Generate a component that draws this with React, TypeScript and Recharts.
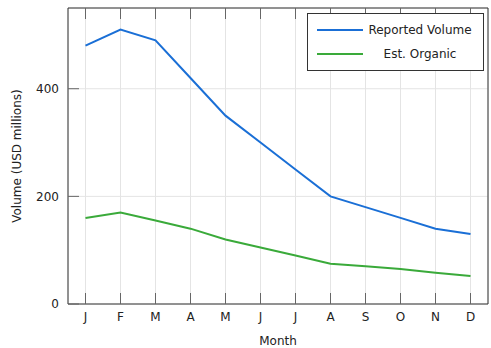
import { CartesianGrid, Line, LineChart, XAxis, YAxis } from "recharts";

const months = ["J", "F", "M", "A", "M", "J", "J", "A", "S", "O", "N", "D"];
const reported = [480, 510, 490, 420, 350, 300, 250, 200, 180, 160, 140, 130];
const organic = [160, 170, 155, 140, 120, 105, 90, 75, 70, 65, 58, 52];
const yTicks = [0, 200, 400];

const data = months.map((m, i) => ({
  idx: i,
  month: m,
  reported: reported[i],
  organic: organic[i],
}));

const FONT = "DejaVu Sans";
const BLUE = "#1a6fd6";
const GREEN = "#3aaa3a";
const FRAME = "#333";
const TICK = "#666";

const BottomTick = (props: any) => {
  const { x, y, payload } = props;
  return (
    <g>
      <line x1={x} y1={y} x2={x} y2={y - 11} stroke={TICK} />
      <text
        x={x}
        y={y + 13}
        dy="0.35em"
        textAnchor="middle"
        fontFamily={FONT}
        fontSize={12}
        fill="#222"
      >
        {months[payload.value]}
      </text>
    </g>
  );
};

const TopTick = (props: any) => {
  const { x, y } = props;
  return <line x1={x} y1={y} x2={x} y2={y + 11} stroke={TICK} />;
};

const LeftTick = (props: any) => {
  const { x, y, payload } = props;
  return (
    <g>
      <line x1={x} y1={y} x2={x + 11} y2={y} stroke={TICK} />
      <text
        x={x - 9}
        y={y}
        dy="0.35em"
        textAnchor="end"
        fontFamily={FONT}
        fontSize={12}
        fill="#222"
      >
        {payload.value}
      </text>
    </g>
  );
};

const RightTick = (props: any) => {
  const { x, y } = props;
  return <line x1={x} y1={y} x2={x - 11} y2={y} stroke={TICK} />;
};

const legendItems = [
  { name: "Reported Volume", color: BLUE },
  { name: "Est. Organic", color: GREEN },
];

const LegendBox = () => (
  <div
    style={{
      position: "absolute",
      left: 307,
      top: 13,
      border: `1px solid ${FRAME}`,
      background: "#fff",
      width: 177,
      height: 58,
      boxSizing: "border-box",
      fontFamily: FONT,
      fontSize: 12,
      color: "#222",
      padding: "4px 0 0 9px",
    }}
  >
    {legendItems.map((it) => (
      <div
        key={it.name}
        style={{ display: "flex", alignItems: "center", height: 24 }}
      >
        <div style={{ width: 46, height: 2, background: it.color }} />
        <div style={{ width: 114, textAlign: "center", whiteSpace: "nowrap" }}>
          {it.name}
        </div>
      </div>
    ))}
  </div>
);

export default function App() {
  return (
    <div
      style={{
        position: "absolute",
        left: 0,
        top: 0,
        width: 491,
        height: 348,
        background: "#fff",
      }}
    >
      <LineChart
        width={491}
        height={348}
        data={data}
        margin={{ top: 7, right: 2, bottom: 0, left: 0 }}
      >
        <CartesianGrid stroke="#e4e4e4" horizontal vertical />
        <XAxis
          dataKey="idx"
          type="number"
          domain={[-0.5, 11.5]}
          ticks={months.map((_, i) => i)}
          height={44}
          tickSize={0}
          tickMargin={0}
          tickLine={false}
          axisLine={{ stroke: FRAME }}
          tick={<BottomTick />}
          interval={0}
          label={{
            value: "Month",
            position: "insideBottom",
            offset: 3,
            style: { fontFamily: FONT, fontSize: 12, fill: "#222" },
          }}
        />
        <XAxis
          xAxisId="top"
          dataKey="idx"
          type="number"
          orientation="top"
          domain={[-0.5, 11.5]}
          ticks={months.map((_, i) => i)}
          height={1}
          tickSize={0}
          tickMargin={0}
          tickLine={false}
          axisLine={{ stroke: FRAME }}
          tick={<TopTick />}
          interval={0}
        />
        <YAxis
          type="number"
          domain={[0, 550]}
          ticks={yTicks}
          width={68}
          tickSize={0}
          tickMargin={0}
          tickLine={false}
          axisLine={{ stroke: FRAME }}
          tick={<LeftTick />}
          interval={0}
          label={{
            value: "Volume (USD millions)",
            angle: -90,
            position: "insideLeft",
            offset: 17,
            style: {
              textAnchor: "middle",
              fontFamily: FONT,
              fontSize: 12,
              fill: "#222",
            },
          }}
        />
        <YAxis
          yAxisId="right"
          orientation="right"
          type="number"
          domain={[0, 550]}
          ticks={yTicks}
          width={1}
          tickSize={0}
          tickMargin={0}
          tickLine={false}
          axisLine={{ stroke: FRAME }}
          tick={<RightTick />}
          interval={0}
        />
        <Line
          dataKey="reported"
          stroke={BLUE}
          strokeWidth={2}
          dot={false}
          isAnimationActive={false}
        />
        <Line
          dataKey="organic"
          stroke={GREEN}
          strokeWidth={2}
          dot={false}
          isAnimationActive={false}
        />
      </LineChart>
      <LegendBox />
    </div>
  );
}
